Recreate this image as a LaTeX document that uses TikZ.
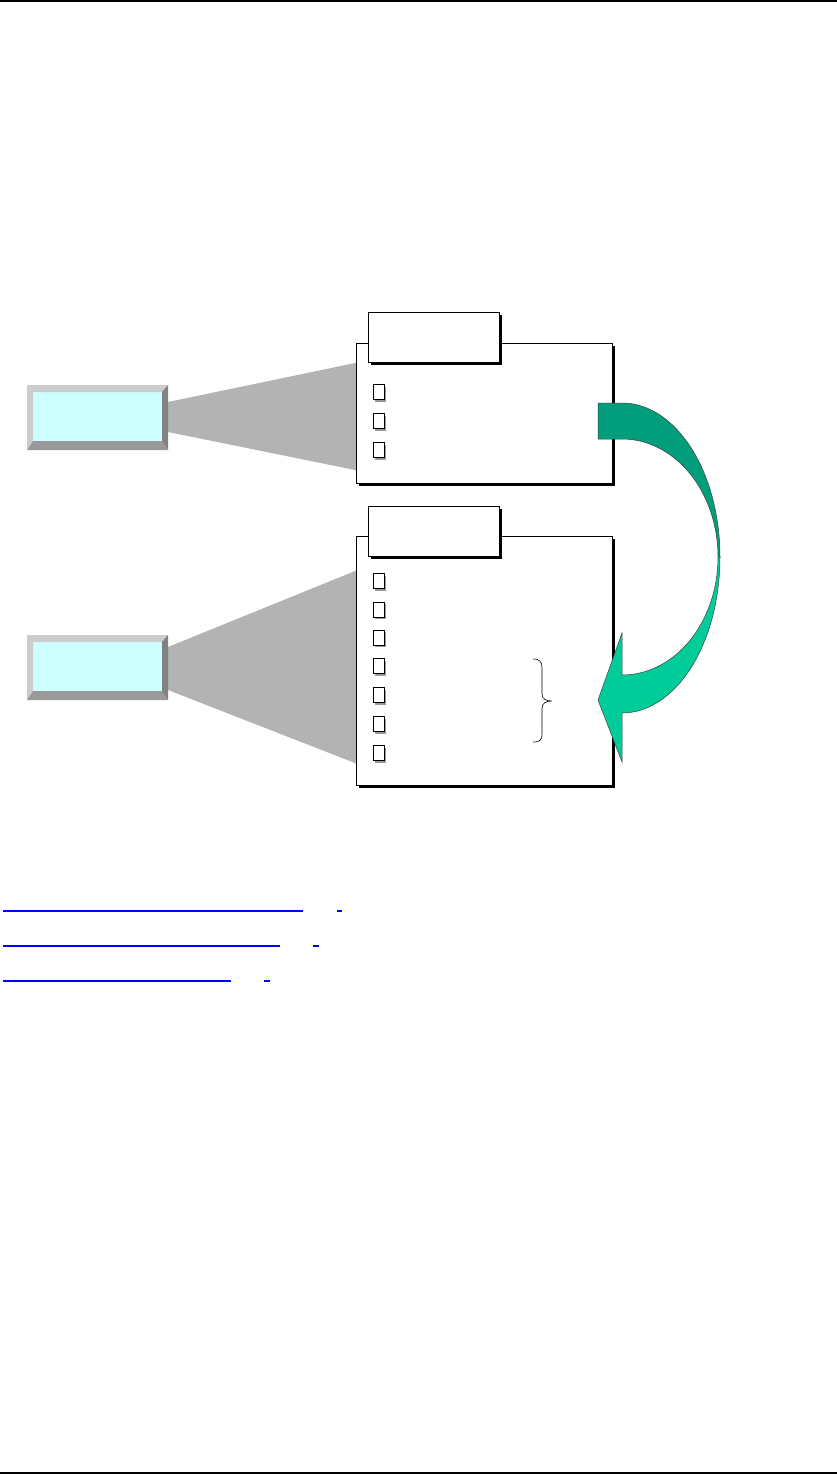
\documentclass[tikz,border=0pt]{standalone}
\usetikzlibrary{shadows}
\definecolor{beamgray}{HTML}{B3B3B3}
\definecolor{cyanfill}{HTML}{CCFFFF}
\definecolor{bevlight}{HTML}{CCCCCC}
\definecolor{bevdark}{HTML}{999999}
\definecolor{arrowdark}{HTML}{009E7A}
\definecolor{arrowlight}{HTML}{00CC99}
\definecolor{linkblue}{HTML}{0000FF}
\tikzset{
  panel/.style={draw=black, line width=0.9pt, fill=white, inner sep=0pt, outer sep=0pt, anchor=north west,
    drop shadow={shadow xshift=3pt, shadow yshift=-3pt, fill=black, opacity=1}},
  tabbox/.style={panel, minimum width=131pt, minimum height=50pt},
  chk/.style={draw=black, line width=0.7pt, fill=white, inner sep=0pt, outer sep=0pt, minimum width=11pt, minimum height=15pt,
    drop shadow={shadow xshift=2pt, shadow yshift=-2pt, fill=bevdark, opacity=1}},
  bevbox/.style={fill=cyanfill, inner sep=0pt, outer sep=0pt, anchor=north west, minimum width=141pt, minimum height=65pt},
  beam/.style={fill=beamgray},
  ribbon/.style={draw=black!75, line width=0.5pt},
  bracestyle/.style={draw=black, line width=0.6pt},
  link/.style={fill=linkblue}
}
\begin{document}
\begin{tikzpicture}[x=1pt,y=-1pt]
\useasboundingbox (0,0) rectangle (837,1474);
% page rules
\fill (0,0) rectangle (837,1.6);
\fill (0,1472.4) rectangle (837,1474);

% beams (behind panels)
\fill[beam] (168,402) -- (360,362) -- (360,471) -- (168,432) -- cycle;
\fill[beam] (168,647) -- (360,569) -- (360,765) -- (168,690) -- cycle;

% left bevelled boxes
\node[bevbox] (src1) at (27,385) {};
\node[bevbox] (src2) at (27,635) {};
\foreach \b in {src1,src2}{
  \fill[bevlight] (\b.north west) -- (\b.north east) -- ([shift={(-6,7)}]\b.north east) -- ([shift={(6,7)}]\b.north west) -- cycle;
  \fill[bevlight] (\b.north west) -- ([shift={(6,7)}]\b.north west) -- ([shift={(6,-9)}]\b.south west) -- (\b.south west) -- cycle;
  \fill[bevdark] (\b.south west) -- ([shift={(6,-9)}]\b.south west) -- ([shift={(-6,-9)}]\b.south east) -- (\b.south east) -- cycle;
  \fill[bevdark!85!black] (\b.south east) -- ([shift={(-6,-9)}]\b.south east) -- ([shift={(-6,7)}]\b.north east) -- (\b.north east) -- cycle;
}

% upper panel
\node[panel, minimum width=256pt, minimum height=140pt] (p1) at (356,343) {};
\node[tabbox] (t1) at (368,312) {};
\foreach \y [count=\i] in {392,421,450}{
  \node[chk] (c1\i) at (378.5,\y) {};
}

% lower panel
\node[panel, minimum width=256pt, minimum height=249pt] (p2) at (356,536) {};
\node[tabbox] (t2) at (368,506) {};
\foreach \y [count=\i] in {581,609.5,637.5,666,695,724,753}{
  \node[chk] (c2\i) at (378.5,\y) {};
}

% brace
\coordinate (bt) at (533,659);
\coordinate (bb) at (533,742);
\draw[bracestyle] (bt) .. controls (540,659) and (542,662) .. (542,668)
  -- (542,694) .. controls (542,699) and (546,701) .. (552,701)
  .. controls (546,701) and (542,703) .. (542,708)
  -- (542,734) .. controls (542,740) and (540,742) .. (bb);

% curved arrow: upper (dark) half
\filldraw[ribbon, fill=arrowdark]
  (598,403) -- (622,403)
  -- plot[domain=90:0, samples=50] ({622+98*cos(\x)}, {557-154*sin(\x)})
  -- plot[domain=0:90, samples=50] ({622+96*cos(\x)}, {557-118*sin(\x)})
  -- (598,439) -- cycle;
% lower (light) half with head
\filldraw[ribbon, fill=arrowlight]
  (720,557)
  -- plot[domain=0:-90, samples=50] ({622+98*cos(\x)}, {557-156*sin(\x)})
  -- (622,762) -- (598,700) -- (622,633) -- (622,675)
  -- plot[domain=-90:0, samples=50] ({622+96*cos(\x)}, {557-118*sin(\x)})
  -- cycle;

% hyperlink underlines
\fill[link] (3,910) rectangle (303,912);
\fill[link] (337,910) rectangle (342,912);
\fill[link] (3,945) rectangle (280,947);
\fill[link] (313,945) rectangle (319,947);
\fill[link] (3,980) rectangle (231,982);
\fill[link] (264,980) rectangle (270,982);
\end{tikzpicture}
\end{document}
